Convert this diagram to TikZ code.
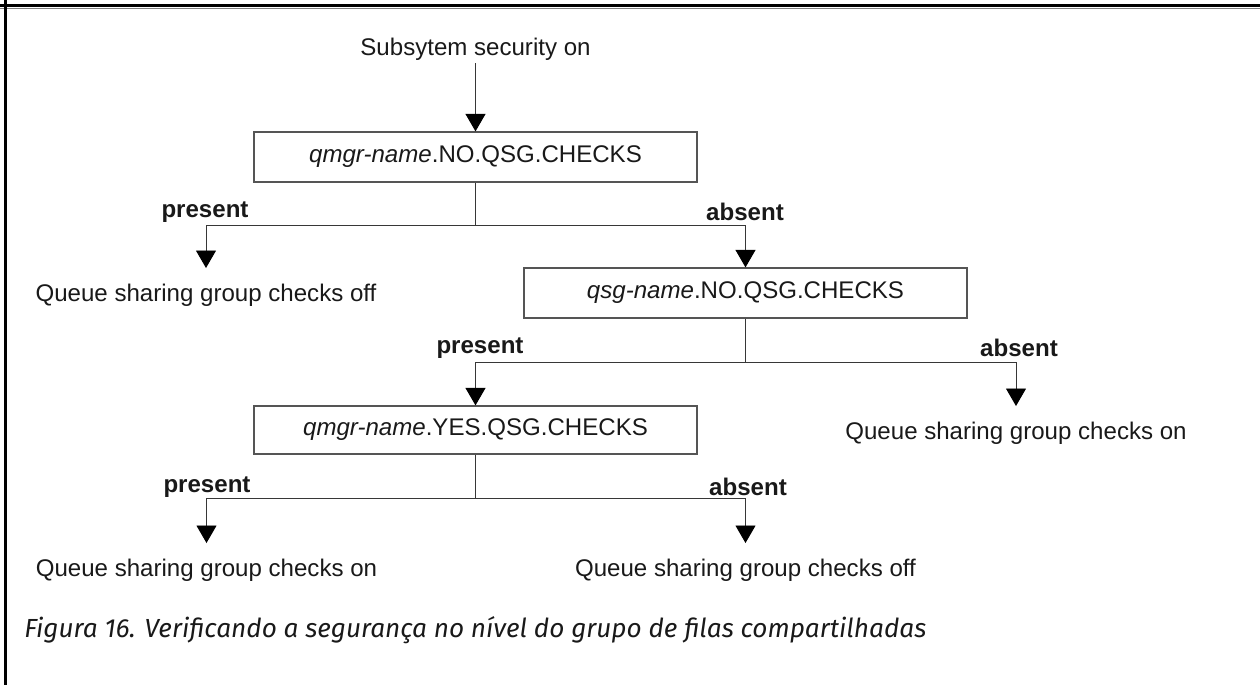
\documentclass[tikz,border=0pt]{standalone}
\usepackage{fontspec}
\setmainfont{Liberation Sans}
\newfontfamily\capfont{Fira Sans}
\usepackage{xcolor}
\usepackage{tikz}
\usetikzlibrary{arrows.meta,positioning,calc}
\newcommand{\qmgr}{\textit{qmgr-name}}
\newcommand{\qsg}{\textit{qsg-name}}
\definecolor{clrLine}{RGB}{55,55,55}
\definecolor{clrBox}{RGB}{85,85,85}
\definecolor{clrTxt}{RGB}{25,25,25}
\tikzset{
  check/.style={rectangle,draw=clrBox,line width=0.7pt,text=clrTxt,
    font=\fontsize{13.7}{16}\selectfont,minimum width=8.86cm,minimum height=1.0cm,inner sep=0pt},
  outcome/.style={font=\fontsize{13.7}{16}\selectfont,text=clrTxt,anchor=north,
    inner xsep=0pt,inner ysep=9pt},
  branch/.style={font=\fontsize{13.7}{16}\selectfont\bfseries,text=clrTxt,inner sep=1pt},
  link/.style={draw=clrLine,line width=0.55pt},
  arrow/.style={link,-{Triangle[length=0.35cm,width=0.4cm,color=black]}},
  caption/.style={font=\capfont\itshape\fontsize{14.9}{17}\selectfont,text=clrTxt,
    anchor=base west,inner sep=0pt}
}

\begin{document}
\begin{tikzpicture}[x=1cm,y=1cm]
  \useasboundingbox (0,0) rectangle (25.2,-13.7);
  \draw[line width=1.7pt] (0,-0.11) -- (25.2,-0.11);
  \draw[gray,line width=0.6pt] (0,-0.17) -- (25.2,-0.17);
  \draw[line width=1.4pt] (0.11,0) -- (0.11,-13.7);
  \node[outcome,anchor=south,inner ysep=1pt] (sec) at (9.51,-1.26) {Subsytem security on};
  \node[check] (b1) at (9.51,-3.14) {\qmgr.NO.QSG.CHECKS};
  \node[outcome] (off1) at (4.12,-5.36) {Queue sharing group checks off};
  \node[check] (b2) at (14.91,-5.86) {\qsg.NO.QSG.CHECKS};
  \node[check,minimum height=0.96cm] (b3) at (9.51,-8.6) {\qmgr.YES.QSG.CHECKS};
  \node[outcome] (on1) at (20.32,-8.12) {Queue sharing group checks on};
  \node[outcome] (on2) at (4.13,-10.86) {Queue sharing group checks on};
  \node[outcome] (off2) at (14.91,-10.86) {Queue sharing group checks off};
  \coordinate (j1) at (9.51,-4.5);
  \coordinate (j2) at (14.91,-7.24);
  \coordinate (j3) at (9.51,-9.96);
  \node[branch] (p1) at (4.1,-4.24) {present};
  \node[branch] (a1) at (14.9,-4.24) {absent};
  \node[branch] (p2) at (9.6,-6.96) {present};
  \node[branch] (a2) at (20.38,-6.96) {absent};
  \node[branch] (p3) at (4.14,-9.74) {present};
  \node[branch] (a3) at (14.96,-9.74) {absent};
  \draw[arrow] (sec) -- (b1);
  \draw[link] (b1) -- (j1);
  \draw[arrow] (j1) -| (off1);
  \draw[arrow] (j1) -| (b2);
  \draw[link] (b2) -- (j2);
  \draw[arrow] (j2) -| (b3);
  \draw[arrow] (j2) -| (on1);
  \draw[link] (b3) -- (j3);
  \draw[arrow] (j3) -| (on2);
  \draw[arrow] (j3) -| (off2);
  \node[caption] (cap) at (0.48,-12.74)
    {Figura 16. Verificando a segurança no nível do grupo de filas compartilhadas};
\end{tikzpicture}
\end{document}
